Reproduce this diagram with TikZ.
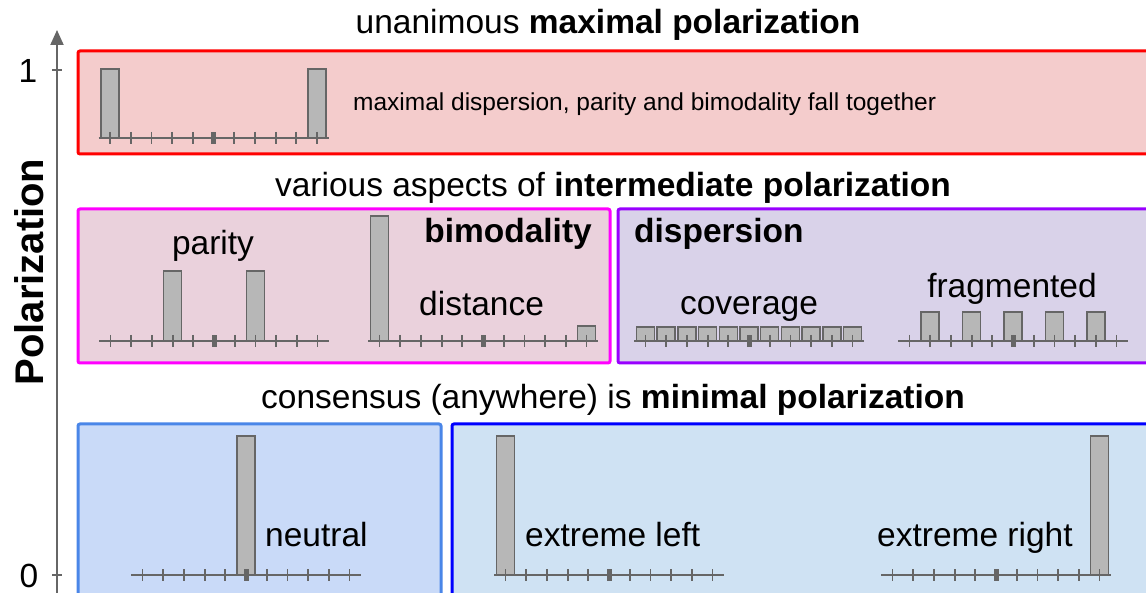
\documentclass[tikz,border=0pt]{standalone}
\usepackage{fontspec}
\setmainfont{Liberation Sans}
\usetikzlibrary{arrows.meta}

\definecolor{axisgray}{HTML}{666666}
\definecolor{bargray}{HTML}{B7B7B7}
\definecolor{maxline}{HTML}{FF0000}
\definecolor{maxfill}{HTML}{F4CCCC}
\definecolor{bimoline}{HTML}{FF00FF}
\definecolor{bimofill}{HTML}{EAD1DC}
\definecolor{displine}{HTML}{9900FF}
\definecolor{dispfill}{HTML}{D9D2E9}
\definecolor{neutline}{HTML}{4A86E8}
\definecolor{neutfill}{HTML}{C9DAF8}
\definecolor{extrline}{HTML}{0000FF}
\definecolor{extrfill}{HTML}{CFE2F3}

\tikzset{
  panel/.style={line width=3pt, rounded corners=2pt},
  axisline/.style={draw=axisgray, line width=2pt},
  histline/.style={draw=axisgray, line width=1.8pt},
  histbar/.style={draw=axisgray, fill=bargray, line width=1.5pt},
  txt/.style={inner sep=0pt, anchor=base, font=\fontsize{33.5}{40}\selectfont},
  smalltxt/.style={txt, font=\fontsize{24.5}{30}\selectfont},
}

% histogram axis: centre x, baseline y
\newcommand{\histaxis}[2]{%
  \draw[histline] ({#1-115},#2) -- ({#1+115},#2);
  \foreach \k in {-5,...,5} { \draw[histline] ({#1+\k*20.7},{#2-6}) -- ({#1+\k*20.7},{#2+6}); }
  \fill[axisgray] ({#1-2.5},{#2-6}) rectangle ({#1+2.5},{#2+6});
}
% histogram bar: centre x, tick, baseline y, height
\newcommand{\histbar}[4]{%
  \draw[histbar] ({#1+#2*20.7-9},#3) rectangle ({#1+#2*20.7+9},{#3-#4});
}

\begin{document}
\begin{tikzpicture}[x=1pt,y=-1pt]
  \clip (0,0) rectangle (1146,593);

  % polarization scale
  \draw[axisline,-{Triangle[length=15pt,width=13pt]}] (57,600) -- (57,30);
  \foreach \y in {70,575} { \draw[axisline] (52,\y) -- (62,\y); }
  \node[txt] (one) at (28,83) {1};
  \node[txt] (zero) at (29,587) {0};
  \node[txt, font=\fontsize{40}{48}\selectfont\bfseries, rotate=90] (ylabel) at (43,272) {Polarization};

  % panels
  \draw[panel, draw=maxline, fill=maxfill] (78,51) rectangle (1160,154);
  \draw[panel, draw=bimoline, fill=bimofill] (78,209) rectangle (610,363);
  \draw[panel, draw=displine, fill=dispfill] (618,209) rectangle (1160,363);
  \draw[panel, draw=neutline, fill=neutfill] (78,424) rectangle (441,610);
  \draw[panel, draw=extrline, fill=extrfill] (452,424) rectangle (1160,610);

  % headlines
  \node[txt] (maxtitle) at (608,34) {unanimous \textbf{maximal polarization}};
  \node[txt] (midtitle) at (613,197) {various aspects of \textbf{intermediate polarization}};
  \node[txt] (mintitle) at (613,409) {consensus (anywhere) is \textbf{minimal polarization}};

  % maximal
  \histbar{213.5}{-5}{138}{69}
  \histbar{213.5}{5}{138}{69}
  \histaxis{213.5}{138}
  \node[smalltxt, anchor=base west] (together) at (353,111) {maximal dispersion, parity and bimodality fall together};

  % parity
  \histbar{214}{-2}{341}{70}
  \histbar{214}{2}{341}{70}
  \histaxis{214}{341}
  \node[txt] (parity) at (213,255) {parity};

  % bimodality distance
  \histbar{483}{-5}{341}{125}
  \histbar{483}{5}{341}{15}
  \histaxis{483}{341}
  \node[txt, anchor=base east] (bimodality) at (592,243) {\textbf{bimodality}};
  \node[txt, anchor=base west] (distance) at (419,316) {distance};

  % dispersion
  \node[txt, anchor=base west] (dispersion) at (634,243) {\textbf{dispersion}};
  \foreach \k in {-5,...,5} { \histbar{749}{\k}{341}{14} }
  \histaxis{749}{341}
  \node[txt] (coverage) at (749,315) {coverage};
  \foreach \k in {-4,-2,...,4} { \histbar{1013}{\k}{341}{29} }
  \histaxis{1013}{341}
  \node[txt] (fragmented) at (1012,298) {fragmented};

  % minimal
  \histbar{246}{0}{575}{139}
  \histaxis{246}{575}
  \node[txt, anchor=base west] (neutral) at (265,546) {neutral};
  \histbar{609}{-5}{575}{139}
  \histaxis{609}{575}
  \node[txt, anchor=base west] (extleft) at (525,546) {extreme left};
  \histbar{996}{5}{575}{139}
  \histaxis{996}{575}
  \node[txt, anchor=base west] (extright) at (877,546) {extreme right};
\end{tikzpicture}
\end{document}
